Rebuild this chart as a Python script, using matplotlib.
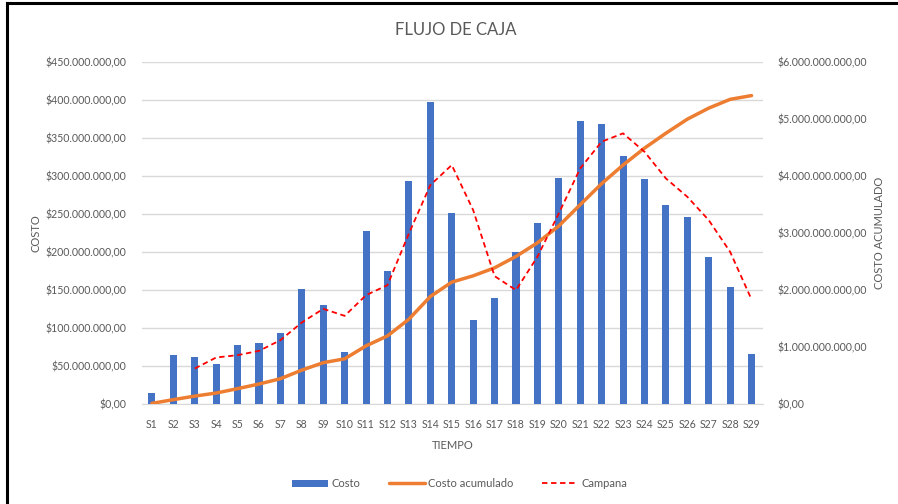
import matplotlib.pyplot as plt
import numpy as np
from matplotlib.ticker import FuncFormatter, MultipleLocator
from matplotlib.lines import Line2D

plt.rcParams['font.family'] = ['Lato', 'DejaVu Sans']

semanas = ['S%d' % i for i in range(1, 30)]

# costo semanal (millones)
costo = [15, 65, 62, 53.5, 77.6, 80.7, 93, 151, 130, 68, 227.6, 175, 293, 397,
         252, 111, 140, 200, 238, 297, 372, 369, 326, 296, 262, 246, 194, 154, 66]

# costo acumulado (millones)
acumulado = [15, 80, 142, 196, 273, 354, 447, 598, 728, 796, 1023, 1198, 1491, 1888,
             2140, 2251, 2391, 2591, 2829, 3126, 3498, 3867, 4193, 4489, 4751, 4997,
             5191, 5345, 5411]

# campana (millones), empieza en S3
campana = [np.nan, np.nan, 626, 819, 860, 935, 1123, 1433, 1672, 1549, 1912, 2088,
           2994, 3842, 4193, 3404, 2246, 2000, 2584, 3345, 4135, 4602, 4749, 4427,
           3959, 3637, 3228, 2672, 1837]

gris = '#595959'


def pesos(v, pos):
    s = '{:,.2f}'.format(v)
    s = s.replace(',', 'X').replace('.', ',').replace('X', '.')
    return '$' + s


fig = plt.figure(figsize=(8.98, 5.04), dpi=100)
ax = fig.add_axes([0.158, 0.198, 0.692, 0.679])
ax2 = ax.twinx()

x = np.arange(len(semanas))
ax.bar(x, np.array(costo) * 1e6, width=0.33, color='#4472c4', label='Costo', zorder=3)
ax2.plot(x, np.array(acumulado) * 1e6, color='#ed7d31', lw=2.5, label='Costo acumulado',
         solid_capstyle='round')
ax2.plot(x, np.array(campana) * 1e6, color='red', lw=1.3, ls=(0, (3, 2)), label='Campana')

ax.set_xlim(-0.47, 28.55)
ax.set_ylim(0, 450e6)
ax2.set_ylim(0, 6000e6)
ax.yaxis.set_major_locator(MultipleLocator(50e6))
ax2.yaxis.set_major_locator(MultipleLocator(1000e6))
ax.yaxis.set_major_formatter(FuncFormatter(pesos))
ax2.yaxis.set_major_formatter(FuncFormatter(pesos))
ax.set_xticks(x)
ax.set_xticklabels(semanas)

ax.grid(axis='y', color='#d9d9d9', lw=1, zorder=0)
ax.set_axisbelow(True)
for a in (ax, ax2):
    for sp in a.spines.values():
        sp.set_visible(False)
    a.tick_params(length=0, colors=gris, labelsize=7.6)
ax.spines['bottom'].set_visible(True)
ax.spines['bottom'].set_color('#d9d9d9')
ax.tick_params(axis='x', pad=11)
ax.tick_params(axis='y', pad=11)
ax2.tick_params(axis='y', pad=10)

ax.set_xlabel('TIEMPO', color=gris, fontsize=8, labelpad=7)
ax.set_ylabel('COSTO', color=gris, fontsize=8, labelpad=3)
ax2.set_ylabel('COSTO ACUMULADO', color=gris, fontsize=8, rotation=90, labelpad=5)

fig.text(0.507, 0.94, 'FLUJO DE CAJA', ha='center', va='center', color=gris, fontsize=12)

h1, l1 = ax.get_legend_handles_labels()
h2, l2 = ax2.get_legend_handles_labels()
fig.legend(h1 + h2, l1 + l2, loc='center', bbox_to_anchor=(0.512, 0.04), ncol=3,
           frameon=False, fontsize=8, labelcolor=gris, handlelength=3.2,
           columnspacing=2.6, handletextpad=0.3)

# marco negro del recorte
fig.add_artist(Line2D([0.0075, 0.0075], [0, 0.995], color='black', lw=2.2))
fig.add_artist(Line2D([0.0075, 1], [0.994, 0.994], color='black', lw=2.2))

fig.savefig('out.png', dpi=100)
